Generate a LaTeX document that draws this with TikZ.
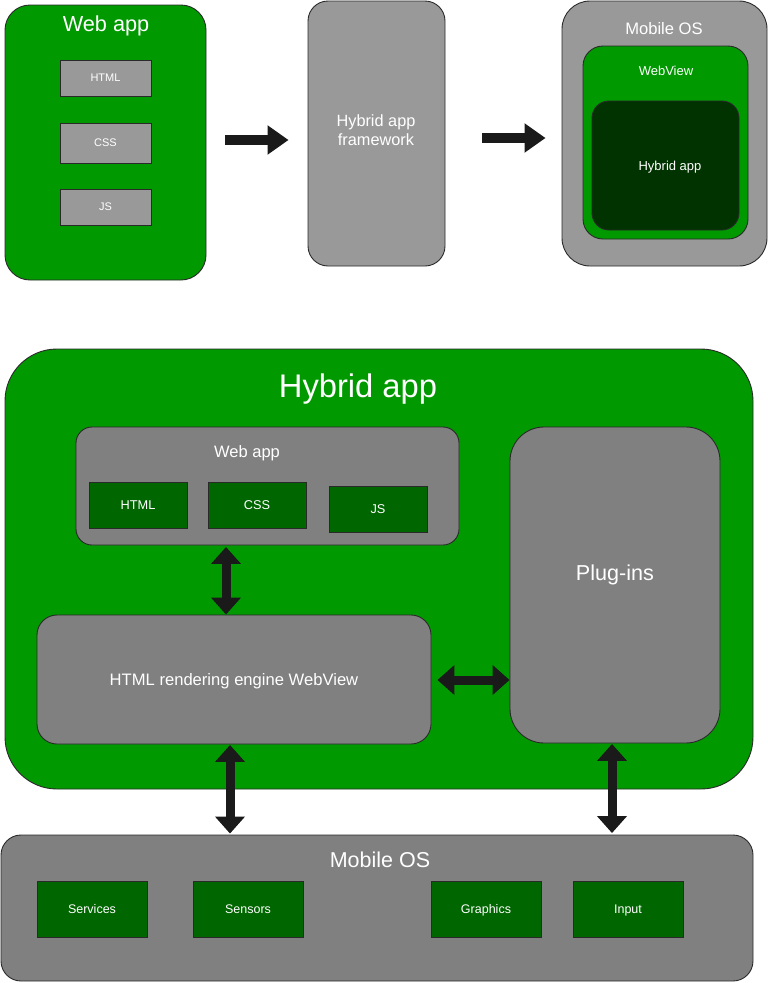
\documentclass[tikz,border=0pt]{standalone}
\usepackage{fontspec}
\setmainfont{Liberation Sans}
\usetikzlibrary{arrows.meta,calc}
\definecolor{gMain}{HTML}{009900}
\definecolor{gDark}{HTML}{006600}
\definecolor{gDeep}{HTML}{003300}
\definecolor{greyT}{HTML}{999999}
\definecolor{greyB}{HTML}{808080}
\definecolor{arrowc}{HTML}{1A1A1A}
\definecolor{edge}{HTML}{2A2A2A}
\newcommand{\fs}[1]{\fontsize{#1}{#1}\selectfont}
\begin{document}
\begin{tikzpicture}[x=1pt,y=-1pt,
  box/.style={draw=edge, line width=0.9pt, inner sep=0pt, text=white},
  capc/.style={text height=#1, text depth=0pt},
  lbl/.style={text=white, inner sep=0pt, align=center},
  onearrow/.style={draw=arrowc, line width=9.5pt, -{Triangle[length=21pt,width=28pt]}},
  twoarrow/.style={draw=arrowc, line width=9pt, {Triangle[length=17pt,width=29pt]}-{Triangle[length=17pt,width=29pt]}}
]
\useasboundingbox (0,0) rectangle (768,983);

% ---------- top row ----------
\node[box, fill=gMain, rounded corners=25pt, minimum width=201pt, minimum height=275pt] (webA) at (105.5,142.5) {};
\node[lbl, font=\fs{21.7}] (webAt) at (106,26) {Web app};
\node[box, capc=7.9pt, fill=greyT, minimum width=91pt, minimum height=36pt, font=\fs{11}] (htmlA) at (105.5,78) {HTML};
\node[box, capc=7.9pt, fill=greyT, minimum width=91pt, minimum height=40pt, font=\fs{11}] (cssA) at (105.5,143) {CSS};
\node[box, capc=7.9pt, fill=greyT, minimum width=91pt, minimum height=36pt, font=\fs{11}] (jsA) at (105.5,207) {JS};

\node[box, fill=greyT, rounded corners=20pt, minimum width=137pt, minimum height=265pt] (fw) at (376.5,133.5) {};
\node[lbl, font={\fontsize{16.3}{19}\selectfont}] (fwt) at (376,130) {Hybrid app\\framework};

\node[box, fill=greyT, rounded corners=28pt, minimum width=205pt, minimum height=265pt] (mosT) at (664.5,133.5) {};
\node[lbl, font=\fs{16.6}] (mosTt) at (664,29) {Mobile OS};
\node[box, fill=gMain, rounded corners=20pt, minimum width=165pt, minimum height=193pt] (wv) at (665.5,142.5) {};
\node[lbl, font=\fs{13}] (wvt) at (666,71) {WebView};
\node[box, fill=gDeep, rounded corners=17pt, minimum width=147pt, minimum height=129pt] (hyT) at (665.5,165.5) {};
\node[lbl, font=\fs{13}] (hyTt) at (670,167.5) {Hybrid app};

\draw[onearrow] ($(webA.east)+(19,-2.5)$) -- ($(fw.west)+(-19,6.5)$);
\draw[onearrow] ($(fw.east)+(37,4.5)$) -- ($(mosT.west)+(-16,4.5)$);

% ---------- bottom diagram ----------
\node[box, fill=gMain, rounded corners=52pt, minimum width=748pt, minimum height=440pt] (hyB) at (379,569) {};
\node[lbl, font=\fs{32.7}] (hyBt) at (358,389) {Hybrid app};

\node[box, fill=greyB, rounded corners=16pt, minimum width=383pt, minimum height=118pt] (webB) at (267.5,486) {};
\node[lbl, font=\fs{16.5}] (webBt) at (247,453.5) {Web app};
\node[box, capc=9.1pt, fill=gDark, minimum width=98pt, minimum height=46pt, font=\fs{12.75}] (htmlB) at (138,505) {HTML};
\node[box, capc=9.1pt, fill=gDark, minimum width=98pt, minimum height=46pt, font=\fs{12.75}] (cssB) at (257,505) {CSS};
\node[box, capc=9.1pt, fill=gDark, minimum width=98pt, minimum height=46pt, font=\fs{12.75}] (jsB) at (378,509) {JS};

\node[box, fill=greyB, rounded corners=20pt, minimum width=394pt, minimum height=129pt] (eng) at (234,679.5) {};
\node[lbl, font=\fs{16.6}] (engt) at (234,681.5) {HTML rendering engine WebView};

\node[box, fill=greyB, rounded corners=34pt, minimum width=210pt, minimum height=316pt] (plug) at (615,585) {};
\node[lbl, font=\fs{21.6}] (plugt) at (615,575) {Plug-ins};

\node[box, fill=greyB, rounded corners=20pt, minimum width=752pt, minimum height=146pt] (mosB) at (377,908) {};
\node[lbl, font=\fs{21.5}] (mosBt) at (380,860) {Mobile OS};
\node[box, capc=9pt, fill=gDark, minimum width=110pt, minimum height=56pt, font=\fs{12.5}] (svc) at (92,909) {Services};
\node[box, capc=9pt, fill=gDark, minimum width=110pt, minimum height=56pt, font=\fs{12.5}] (sns) at (248,909) {Sensors};
\node[box, capc=9pt, fill=gDark, minimum width=110pt, minimum height=56pt, font=\fs{12.5}] (gfx) at (486,909) {Graphics};
\node[box, capc=9pt, fill=gDark, minimum width=110pt, minimum height=56pt, font=\fs{12.5}] (inp) at (628,909) {Input};

% connectors
\coordinate (a1s) at ($(webB.south)+(-41.5,1.5)$);
\draw[twoarrow] (a1s) -- (a1s |- eng.north);
\coordinate (a2s) at ($(eng.east)+(6,0.5)$);
\draw[twoarrow] (a2s) -- (a2s -| plug.west);
\coordinate (a3s) at ($(eng.south)+(-4,0.5)$);
\draw[twoarrow] (a3s) -- ($(a3s |- mosB.north)+(0,-1)$);
\coordinate (a4s) at ($(plug.south)+(-3,0.5)$);
\draw[twoarrow] (a4s) -- ($(a4s |- mosB.north)+(0,-1.5)$);
\end{tikzpicture}
\end{document}
